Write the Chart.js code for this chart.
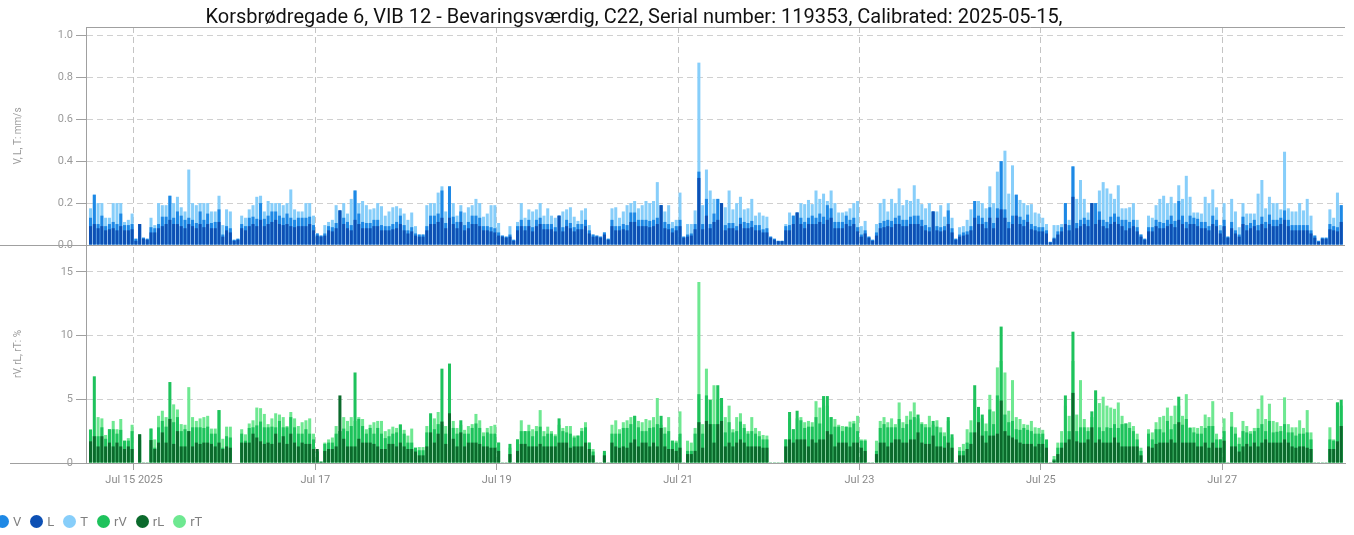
<!DOCTYPE html>
<html>
<head>
<meta charset="utf-8">
<script src="https://cdn.jsdelivr.net/npm/chart.js@4.4.0/dist/chart.umd.min.js"></script>
<style>
    html, body { margin: 0; padding: 0; background: #fff; }
    #wrap { position: relative; width: 1354px; height: 535px; overflow: hidden; font-family: Roboto, "Noto Sans", sans-serif; }
    #title { position: absolute; left: 0; top: 3px; width: 1268px; text-align: center; font-size: 20px; line-height: 26px; color: #111; }
    #chart { position: absolute; left: 0; top: 0; }
    #legend { position: absolute; left: -4px; top: 514px; display: flex; align-items: center; font-size: 13px; color: #808080; }
    .item { display: flex; align-items: center; margin-right: 9px; }
    .dot { width: 13px; height: 13px; border-radius: 50%; margin-right: 4px; }
</style>
</head>
<body>
<div id="wrap">
    <canvas id="chart" width="1354" height="535"></canvas>
    <div id="title">Korsbrødregade 6, VIB 12 - Bevaringsværdig, C22, Serial number: 119353, Calibrated: 2025-05-15,</div>
    <div id="legend"></div>
</div>
<script>
// Hourly bars, first bar = Jul 14 12:00 (hours counted from Jul 15 00:00)
const FIRST_HOUR = -12;

// Vibration, mm/s (one line = 12 hours)
const T_VALUES = [
    0.175,0.24,0.2,0.2,0.13,0.13,0.2,0.2,0.2,0.11,0.12,0.15,
    0.03,0.1,0.035,0.03,0.13,0.095,0.2,0.19,0.19,0.235,0.2,0.23,
    0.18,0.16,0.36,0.2,0.19,0.2,0.2,0.2,0.16,0.16,0.235,0.095,
    0.17,0.16,0.025,0.03,0.14,0.13,0.17,0.19,0.23,0.235,0.16,0.21,
    0.2,0.2,0.2,0.19,0.2,0.265,0.17,0.16,0.16,0.2,0.2,0.14,
    0.055,0.045,0.095,0.11,0.12,0.19,0.165,0.2,0.15,0.22,0.26,0.2,
    0.21,0.19,0.17,0.175,0.2,0.185,0.14,0.16,0.18,0.185,0.175,0.15,
    0.12,0.155,0.09,0.05,0.05,0.19,0.2,0.2,0.25,0.28,0.16,0.28,
    0.2,0.14,0.19,0.155,0.18,0.19,0.22,0.2,0.135,0.15,0.19,0.19,
    0.105,0.045,0.04,0.09,0.025,0.11,0.2,0.13,0.17,0.16,0.17,0.2,
    0.14,0.175,0.14,0.13,0.14,0.16,0.17,0.18,0.135,0.115,0.165,0.175,
    0.095,0.05,0.045,0.04,0.06,0.03,0.175,0.18,0.13,0.16,0.19,0.2,
    0.21,0.175,0.19,0.21,0.2,0.21,0.3,0.19,0.16,0.19,0.11,0.12,
    0.25,0.04,0.1,0.1,0.165,0.87,0.19,0.36,0.26,0.22,0.22,0.2,
    0.18,0.26,0.17,0.2,0.23,0.17,0.175,0.22,0.14,0.155,0.14,0.135,
    0.04,0.03,0.02,0.02,0.1,0.155,0.14,0.155,0.2,0.195,0.215,0.195,
    0.26,0.22,0.245,0.21,0.26,0.2,0.155,0.155,0.16,0.175,0.2,0.21,
    0.09,0.115,0.04,0.025,0.1,0.2,0.22,0.16,0.22,0.2,0.27,0.19,
    0.215,0.21,0.285,0.22,0.195,0.175,0.2,0.16,0.16,0.19,0.135,0.2,
    0.13,0.03,0.085,0.09,0.12,0.17,0.21,0.21,0.2,0.175,0.28,0.2,
    0.35,0.4,0.45,0.245,0.38,0.24,0.215,0.2,0.19,0.195,0.155,0.15,
    0.13,0.1,0.015,0.095,0.095,0.1,0.2,0.12,0.375,0.22,0.31,0.22,
    0.155,0.2,0.2,0.26,0.3,0.27,0.245,0.22,0.285,0.175,0.175,0.18,
    0.2,0.12,0.05,0.03,0.14,0.13,0.19,0.22,0.235,0.2,0.23,0.2,
    0.285,0.22,0.33,0.23,0.155,0.155,0.15,0.23,0.2,0.265,0.18,0.095,
    0.2,0.04,0.22,0.16,0.085,0.2,0.15,0.15,0.15,0.245,0.31,0.175,
    0.23,0.2,0.2,0.17,0.445,0.175,0.16,0.16,0.2,0.165,0.22,0.14,
    0.045,0.02,0.035,0.035,0.17,0.13,0.25,0.19
];
const V_VALUES = [
    0.13,0.24,0.1,0.14,0.09,0.1,0.11,0.1,0.15,0.095,0.095,0.1,
    0.03,0.1,0.035,0.03,0.085,0.08,0.1,0.135,0.135,0.235,0.13,0.16,
    0.14,0.12,0.13,0.12,0.105,0.16,0.12,0.15,0.105,0.11,0.17,0.05,
    0.09,0.08,0.025,0.03,0.1,0.09,0.13,0.135,0.125,0.2,0.125,0.14,
    0.16,0.16,0.14,0.13,0.15,0.13,0.12,0.13,0.13,0.13,0.135,0.095,
    0.055,0.045,0.055,0.09,0.085,0.105,0.165,0.13,0.11,0.095,0.26,0.15,
    0.11,0.105,0.105,0.12,0.12,0.095,0.09,0.09,0.1,0.11,0.14,0.095,
    0.07,0.085,0.055,0.05,0.05,0.09,0.14,0.14,0.15,0.26,0.105,0.28,
    0.135,0.11,0.16,0.095,0.11,0.14,0.14,0.13,0.09,0.09,0.085,0.08,
    0.06,0.045,0.04,0.05,0.025,0.09,0.12,0.09,0.12,0.085,0.12,0.13,
    0.1,0.1,0.1,0.085,0.14,0.085,0.12,0.105,0.085,0.1,0.1,0.12,
    0.07,0.05,0.045,0.04,0.06,0.03,0.12,0.09,0.09,0.1,0.095,0.155,
    0.155,0.12,0.12,0.12,0.115,0.12,0.13,0.19,0.11,0.1,0.08,0.09,
    0.12,0.04,0.05,0.055,0.1,0.35,0.1,0.22,0.1,0.15,0.22,0.2,
    0.095,0.105,0.105,0.09,0.13,0.11,0.105,0.115,0.095,0.095,0.075,0.08,
    0.04,0.03,0.02,0.02,0.09,0.095,0.14,0.155,0.13,0.11,0.13,0.14,
    0.13,0.15,0.135,0.19,0.175,0.11,0.11,0.11,0.14,0.12,0.13,0.085,
    0.05,0.07,0.04,0.025,0.06,0.105,0.115,0.12,0.115,0.13,0.14,0.12,
    0.12,0.135,0.14,0.14,0.12,0.095,0.085,0.16,0.09,0.085,0.09,0.165,
    0.08,0.03,0.05,0.06,0.065,0.09,0.21,0.14,0.13,0.11,0.18,0.105,
    0.175,0.4,0.17,0.11,0.14,0.24,0.135,0.12,0.145,0.1,0.09,0.085,
    0.085,0.07,0.015,0.035,0.065,0.085,0.2,0.095,0.375,0.105,0.12,0.13,
    0.12,0.2,0.2,0.16,0.12,0.11,0.135,0.15,0.135,0.12,0.12,0.11,
    0.12,0.085,0.05,0.03,0.085,0.085,0.12,0.11,0.105,0.12,0.14,0.115,
    0.21,0.14,0.11,0.14,0.13,0.125,0.11,0.11,0.09,0.14,0.12,0.07,
    0.12,0.04,0.11,0.07,0.05,0.135,0.095,0.105,0.12,0.095,0.135,0.11,
    0.145,0.12,0.12,0.13,0.165,0.12,0.095,0.095,0.095,0.095,0.095,0.07,
    0.045,0.02,0.035,0.035,0.1,0.09,0.085,0.19
];
const L_VALUES = [
    0.09,0.1,0.08,0.09,0.07,0.075,0.08,0.07,0.09,0.07,0.07,0.075,
    0.02,0.1,0.03,0.025,0.06,0.06,0.08,0.09,0.1,0.12,0.1,0.1,
    0.09,0.08,0.1,0.09,0.08,0.1,0.085,0.1,0.08,0.08,0.11,0.04,
    0.07,0.06,0.02,0.025,0.08,0.07,0.09,0.1,0.09,0.12,0.09,0.1,
    0.11,0.12,0.1,0.095,0.1,0.09,0.085,0.09,0.09,0.09,0.1,0.07,
    0.045,0.04,0.045,0.07,0.065,0.08,0.165,0.1,0.08,0.07,0.12,0.1,
    0.08,0.08,0.08,0.09,0.09,0.07,0.07,0.07,0.075,0.08,0.1,0.07,
    0.055,0.065,0.045,0.04,0.04,0.07,0.1,0.1,0.11,0.13,0.08,0.13,
    0.1,0.08,0.11,0.07,0.08,0.1,0.1,0.09,0.07,0.07,0.065,0.06,
    0.045,0.04,0.035,0.04,0.02,0.07,0.09,0.07,0.09,0.065,0.09,0.1,
    0.075,0.075,0.075,0.065,0.14,0.065,0.09,0.08,0.065,0.075,0.075,0.09,
    0.055,0.04,0.04,0.035,0.05,0.025,0.09,0.07,0.07,0.075,0.07,0.11,
    0.11,0.09,0.09,0.09,0.085,0.09,0.1,0.19,0.08,0.075,0.06,0.07,
    0.09,0.035,0.04,0.045,0.075,0.32,0.075,0.14,0.08,0.11,0.12,0.2,
    0.07,0.08,0.08,0.07,0.1,0.08,0.08,0.085,0.07,0.07,0.06,0.06,
    0.035,0.025,0.018,0.018,0.07,0.07,0.1,0.155,0.1,0.08,0.1,0.1,
    0.1,0.11,0.1,0.12,0.13,0.08,0.08,0.08,0.1,0.09,0.1,0.065,
    0.04,0.055,0.035,0.02,0.045,0.08,0.085,0.09,0.085,0.1,0.1,0.09,
    0.09,0.1,0.1,0.1,0.09,0.07,0.065,0.16,0.07,0.065,0.07,0.1,
    0.06,0.025,0.04,0.045,0.05,0.07,0.13,0.1,0.1,0.08,0.13,0.08,
    0.13,0.17,0.13,0.08,0.1,0.14,0.1,0.09,0.11,0.075,0.07,0.065,
    0.065,0.055,0.012,0.03,0.05,0.065,0.1,0.07,0.23,0.08,0.09,0.1,
    0.09,0.2,0.1,0.12,0.09,0.08,0.1,0.11,0.1,0.09,0.07,0.08,
    0.09,0.065,0.04,0.025,0.065,0.065,0.09,0.08,0.08,0.09,0.1,0.085,
    0.12,0.1,0.08,0.1,0.1,0.09,0.08,0.08,0.07,0.1,0.09,0.055,
    0.09,0.035,0.08,0.055,0.04,0.1,0.07,0.08,0.09,0.07,0.1,0.08,
    0.1,0.09,0.09,0.1,0.12,0.09,0.07,0.07,0.07,0.07,0.07,0.055,
    0.035,0.015,0.03,0.03,0.075,0.07,0.065,0.11
];

// Relative values, % (one line = 12 hours)
const RT_VALUES = [
    2.65,2.1,3.6,3.5,2.2,2.65,3.3,2.65,3.45,1.75,1.95,3.0,
    0,1.8,0.05,0.05,2.7,1.85,3.7,4.1,3.6,3.5,4.6,4.2,
    3.05,3.0,5.95,3.6,3.3,3.5,3.6,3.7,2.7,2.7,4.15,1.9,
    2.85,2.85,0,0,2.65,2.25,3.1,3.35,4.35,4.3,3.85,3.05,
    3.5,3.9,3.8,3.6,2.9,4.0,3.5,2.9,3.2,3.35,3.5,2.3,
    0.9,0.1,1.6,1.85,2.0,2.9,2.5,3.6,3.3,3.6,3.3,3.6,
    3.45,2.65,3.0,3.2,3.3,3.3,2.5,2.65,2.85,2.75,3.05,2.6,
    2.15,2.7,1.2,1.25,1.25,2.9,3.0,3.5,4.0,3.0,2.9,3.5,
    3.3,2.75,3.0,2.6,2.9,3.05,3.85,3.35,2.4,2.75,2.9,3.0,
    1.6,0.05,0.05,1.2,0.05,1.85,3.35,2.5,3.0,2.65,2.9,4.15,
    2.5,2.85,2.5,2.25,3.0,2.75,2.9,2.9,2.15,2.15,2.75,3.2,
    1.6,1.1,0.05,0.05,0.8,0.05,3.0,3.35,2.65,3.2,3.35,3.6,
    3.7,3.3,3.2,3.45,3.35,3.6,5.1,3.0,2.8,3.6,1.75,1.75,
    4.05,0.05,1.75,1.6,2.75,14.2,3.05,7.4,4.95,6.1,5.0,4.5,
    3.6,4.5,2.65,3.6,3.9,3.05,2.5,3.6,2.75,2.5,2.2,2.15,
    0.05,0.05,0.05,0.05,1.85,3.5,2.65,3.5,3.6,3.2,3.3,3.2,
    4.85,4.35,4.5,4.5,3.6,3.45,3.0,2.9,2.85,3.25,3.3,3.7,
    1.85,1.85,0.05,0.05,1.75,3.3,3.6,3.2,3.5,3.05,4.75,3.2,
    3.7,4.05,4.75,3.5,3.2,3.05,3.7,3.0,3.35,2.8,2.4,3.3,
    2.0,0.05,1.25,1.5,2.65,3.35,5.0,4.0,3.5,3.1,5.35,4.05,
    7.5,8.0,7.1,4.1,6.5,3.6,3.45,3.05,3.0,3.3,2.8,2.75,
    2.6,1.7,0.05,0.55,1.6,2.5,4.5,3.7,8.0,3.8,6.5,3.45,
    2.8,3.6,5.0,4.7,5.2,4.5,4.35,4.25,4.75,3.7,3.1,3.2,
    2.9,2.3,1.2,0.05,2.65,2.4,3.2,3.6,3.7,4.35,3.7,4.5,
    4.5,3.7,5.4,2.8,2.8,2.75,2.9,3.8,3.6,4.85,2.3,1.85,
    3.5,0.05,4.0,2.8,2.0,3.3,2.9,2.5,2.75,4.25,5.3,3.45,
    4.65,3.3,3.2,2.9,5.15,3.05,2.8,2.8,3.35,2.75,4.15,2.4,
    0.05,0.05,0.05,0.05,2.8,1.85,4.75,4.5
];
const RV_VALUES = [
    2.6,6.8,2.1,2.8,1.9,2.65,2.65,2.3,2.6,1.75,1.75,2.5,
    0,2.25,0.05,0.05,2.7,1.2,2.8,3.3,2.85,6.35,3.2,3.6,
    2.5,2.65,2.5,2.8,2.8,2.8,2.75,2.85,2.3,2.3,4.15,1.2,
    2.1,2.0,0,0,2.3,1.75,2.75,2.8,2.95,3.25,2.8,2.8,
    2.85,2.8,3.3,2.8,2.8,3.6,2.8,2.3,2.3,2.65,2.3,1.85,
    0.9,0.1,1.5,1.6,1.6,2.3,2.5,2.7,2.5,2.9,7.1,3.45,
    2.9,2.3,2.75,2.3,2.75,2.3,1.95,2.1,2.3,2.4,3.0,2.3,
    1.6,1.6,1.2,1.0,1.0,2.4,3.9,2.65,3.05,7.4,2.3,7.8,
    2.75,2.3,3.35,2.3,2.3,2.75,3.1,2.75,2.1,2.4,2.3,2.3,
    1.6,0.05,0.05,1.5,0.05,1.85,2.5,2.5,2.5,2.1,2.5,2.85,
    2.1,2.3,2.3,2.1,3.5,2.5,2.4,2.3,2.0,2.15,2.5,2.8,
    1.6,0.9,0.05,0.05,0.95,0.05,2.3,2.3,2.3,2.75,2.75,3.05,
    3.7,2.8,2.5,2.5,2.75,2.8,3.05,3.7,2.3,2.5,1.75,1.6,
    2.3,0.05,0.95,0.95,2.3,5.4,2.3,5.3,4.95,3.05,6.1,5.1,
    2.4,3.2,2.4,2.5,3.25,2.75,2.3,2.5,2.3,2.1,1.85,1.85,
    0.05,0.05,0.05,0.05,1.85,4.0,2.65,4.1,3.35,2.75,2.85,2.85,
    3.6,3.1,5.25,5.25,3.6,2.85,2.85,2.5,2.85,2.8,3.1,2.5,
    1.75,1.75,0.05,0.05,0.95,2.75,3.05,2.8,2.8,2.8,3.45,2.75,
    3.05,3.4,3.6,3.8,3.05,2.8,2.8,3.3,2.85,2.4,2.1,3.6,
    2.25,0.05,0.95,0.95,1.6,2.4,6.1,4.4,3.8,2.5,4.2,3.05,
    5.3,10.7,3.8,3.2,3.3,2.65,2.6,2.75,2.6,2.5,2.3,2.3,
    2.3,1.85,0.05,0.3,1.2,1.6,5.3,2.5,10.3,2.5,2.8,2.8,
    2.5,4.05,5.7,2.8,2.5,2.8,2.75,3.05,2.75,3.05,3.1,2.75,
    2.5,1.85,0.95,0.05,2.3,1.85,2.65,2.65,2.4,3.3,2.65,3.05,
    5.2,3.0,3.45,2.75,2.4,2.3,2.3,2.75,2.9,2.9,1.85,1.85,
    2.5,0.05,2.85,2.3,1.5,2.5,2.4,2.3,2.5,2.75,3.05,2.5,
    3.3,2.4,2.45,2.5,3.05,2.4,2.4,2.15,2.3,2.3,2.4,1.85,
    0.05,0.05,0.05,0.05,1.85,1.75,4.75,4.95
];
const RL_VALUES = [
    1.7,2.1,1.3,2.1,1.3,1.6,1.3,1.6,1.3,1.1,1.3,1.1,
    0,2.25,0.05,0.05,1.8,1.1,1.6,2.4,1.6,3.45,1.5,2.5,
    1.3,1.3,2.5,1.3,1.6,1.5,1.6,1.6,1.5,1.3,1.6,1.1,
    1.3,1.2,0,0,1.6,1.6,1.6,2.3,2.0,1.7,1.5,1.6,
    1.5,2.3,1.6,2.1,1.5,2.3,1.6,1.3,1.6,1.5,1.5,1.1,
    1.1,0.1,0.95,1.1,1.1,1.3,5.3,1.9,1.3,1.3,1.3,1.9,
    1.6,1.6,1.6,1.5,1.3,1.1,1.1,1.5,1.5,1.3,1.6,1.3,
    1.1,1.1,0.9,0.6,0.6,1.3,2.4,1.6,2.3,3.25,1.5,3.9,
    1.9,1.3,2.4,1.3,1.6,1.6,1.6,1.5,1.3,1.3,1.2,1.2,
    0.95,0.05,0.05,0.7,0.05,0.95,1.5,1.5,1.3,1.3,1.3,1.5,
    1.3,1.3,1.3,1.3,1.6,1.6,1.6,1.2,1.3,1.3,1.3,1.6,
    1.1,0.6,0.05,0.05,0.6,0.05,1.6,1.3,1.2,1.3,1.2,1.6,
    1.85,1.3,1.6,1.6,1.3,1.6,1.3,2.75,1.3,1.1,1.1,0.95,
    1.2,0.05,0.7,0.7,0.95,3.2,1.2,3.3,3.05,1.6,3.05,3.3,
    1.3,1.6,1.3,1.6,1.85,1.6,1.3,1.3,1.3,1.3,1.2,1.2,
    0.05,0.05,0.05,0.05,1.3,1.85,1.6,1.85,1.85,1.85,1.3,1.85,
    1.6,1.85,1.85,2.5,2.25,1.3,1.6,1.6,1.6,1.3,1.6,1.6,
    1.2,0.95,0.05,0.05,0.7,1.6,1.6,1.3,1.6,1.85,1.85,1.6,
    1.6,1.85,1.85,2.4,1.6,1.5,1.5,2.15,1.3,1.3,1.2,1.6,
    1.2,0.05,0.6,0.6,1.1,1.5,2.4,3.2,2.15,1.6,2.15,2.15,
    2.3,4.9,2.5,2.15,2.0,1.85,1.6,1.5,1.5,1.5,1.3,1.5,
    1.5,1.2,0.05,0.2,0.7,1.2,1.6,1.85,5.5,1.7,1.6,1.6,
    1.85,2.8,1.6,1.85,1.6,1.6,1.6,2.0,1.6,1.3,1.3,1.3,
    1.3,1.3,0.6,0.05,1.3,1.2,1.5,1.6,1.6,1.6,1.85,1.6,
    3.2,1.6,1.6,1.6,1.6,1.3,1.3,1.6,1.2,1.6,1.2,1.2,
    1.75,0.05,1.3,1.3,0.9,1.3,1.5,1.3,1.6,1.3,1.6,1.85,
    1.6,1.6,1.6,1.6,1.85,1.6,1.3,1.2,1.3,1.3,1.2,1.1,
    0.05,0.05,0.05,0.05,1.1,1.1,1.7,2.9
];

// X axis labels, one every 48 hours from Jul 15 00:00
const X_TICK_LABELS = ['Jul 15 2025', 'Jul 17', 'Jul 19', 'Jul 21', 'Jul 23', 'Jul 25', 'Jul 27'];
const X_TICK_STEP = 48;

// Series names (legend order)
const SERIES_NAMES = ['V', 'L', 'T', 'rV', 'rL', 'rT'];

const COLORS = {
    V: '#1e88e5', L: '#0d50b4', T: '#87cefa',
    rV: '#1ec25c', rL: '#0b6a2c', rT: '#6ee891'
};

function toPoints(values) {
    return values.map((y, i) => ({ x: FIRST_HOUR + i + 0.5, y: y }));
}

function barSet(name, values, axis) {
    return {
        label: name,
        data: toPoints(values),
        yAxisID: axis,
        backgroundColor: COLORS[name],
        borderWidth: 0,
        grouped: false,
        barPercentage: 0.8,
        categoryPercentage: 1.0
    };
}

// extra frame lines: top border, panel separator, baseline stub on the left
const panelLines = {
    id: 'panelLines',
    afterDraw(chart) {
        const { ctx, chartArea, scales } = chart;
        const ySep = Math.round(scales.yTop.bottom) + 0.5;
        const yBase = Math.round(scales.yBottom.bottom) + 0.5;
        ctx.save();
        ctx.strokeStyle = '#a0a0a0';
        ctx.lineWidth = 1;
        ctx.beginPath();
        ctx.moveTo(chartArea.left, Math.round(chartArea.top) + 0.5);
        ctx.lineTo(chartArea.right, Math.round(chartArea.top) + 0.5);
        ctx.moveTo(0, ySep);
        ctx.lineTo(chartArea.right, ySep);
        ctx.moveTo(10, yBase);
        ctx.lineTo(chartArea.left, yBase);
        ctx.stroke();
        ctx.restore();
    }
};

const yCommon = {
    type: 'linear',
    position: 'left',
    stack: 'panels',
    stackWeight: 1,
    min: 0,
    grid: { color: '#d0d0d0', tickColor: '#a0a0a0', tickLength: 10 },
    border: { color: '#a0a0a0', dash: [6, 4] },
    afterFit: scale => { scale.width = 86; }
};

// Chart.js paints the first dataset last, so the front series (L, rL) come first
new Chart(document.getElementById('chart'), {
    type: 'bar',
    data: {
        datasets: [
            barSet('L', L_VALUES, 'yTop'),
            barSet('V', V_VALUES, 'yTop'),
            barSet('T', T_VALUES, 'yTop'),
            barSet('rL', RL_VALUES, 'yBottom'),
            barSet('rV', RV_VALUES, 'yBottom'),
            barSet('rT', RT_VALUES, 'yBottom')
        ]
    },
    options: {
        responsive: false,
        animation: false,
        layout: { padding: { top: 27, right: 9, left: 0, bottom: 0 } },
        plugins: { legend: { display: false }, tooltip: { enabled: false } },
        scales: {
            x: {
                type: 'linear',
                min: -12.7,
                max: 320.5,
                offset: false,
                afterBuildTicks: axis => {
                    axis.ticks = X_TICK_LABELS.map((l, i) => ({ value: i * X_TICK_STEP }));
                },
                ticks: {
                    callback: (v, i) => X_TICK_LABELS[i],
                    color: '#8a8a8a',
                    font: { family: 'Roboto', size: 11 },
                    maxRotation: 0,
                    autoSkip: false,
                    padding: 4
                },
                grid: { offset: false, color: '#c4c4c4', tickColor: '#a0a0a0', tickLength: 7 },
                border: { color: '#a0a0a0', dash: [6, 4] },
                afterFit: scale => { scale.height = 72; }
            },
            yBottom: Object.assign({}, yCommon, {
                max: 17.1,
                ticks: { stepSize: 5, includeBounds: false, color: '#9a9a9a', font: { family: 'Roboto', size: 11 }, padding: 3 },
                title: { display: true, text: 'rV, rL, rT: %', color: '#9a9a9a', font: { family: 'Roboto', size: 10 }, padding: { top: 12, bottom: 0 } }
            }),
            yTop: Object.assign({}, yCommon, {
                max: 1.04,
                ticks: { stepSize: 0.2, includeBounds: false, color: '#9a9a9a', font: { family: 'Roboto', size: 11 }, padding: 3,
                         callback: v => v.toFixed(1) },
                title: { display: true, text: 'V, L, T: mm/s', color: '#9a9a9a', font: { family: 'Roboto', size: 10 }, padding: { top: 12, bottom: 0 } }
            })
        }
    },
    plugins: [panelLines]
});

// HTML legend
const legend = document.getElementById('legend');
SERIES_NAMES.forEach(name => {
    const item = document.createElement('div');
    item.className = 'item';
    item.innerHTML = '<span class="dot" style="background:' + COLORS[name] + '"></span><span>' + name + '</span>';
    legend.appendChild(item);
});
</script>
</body>
</html>
